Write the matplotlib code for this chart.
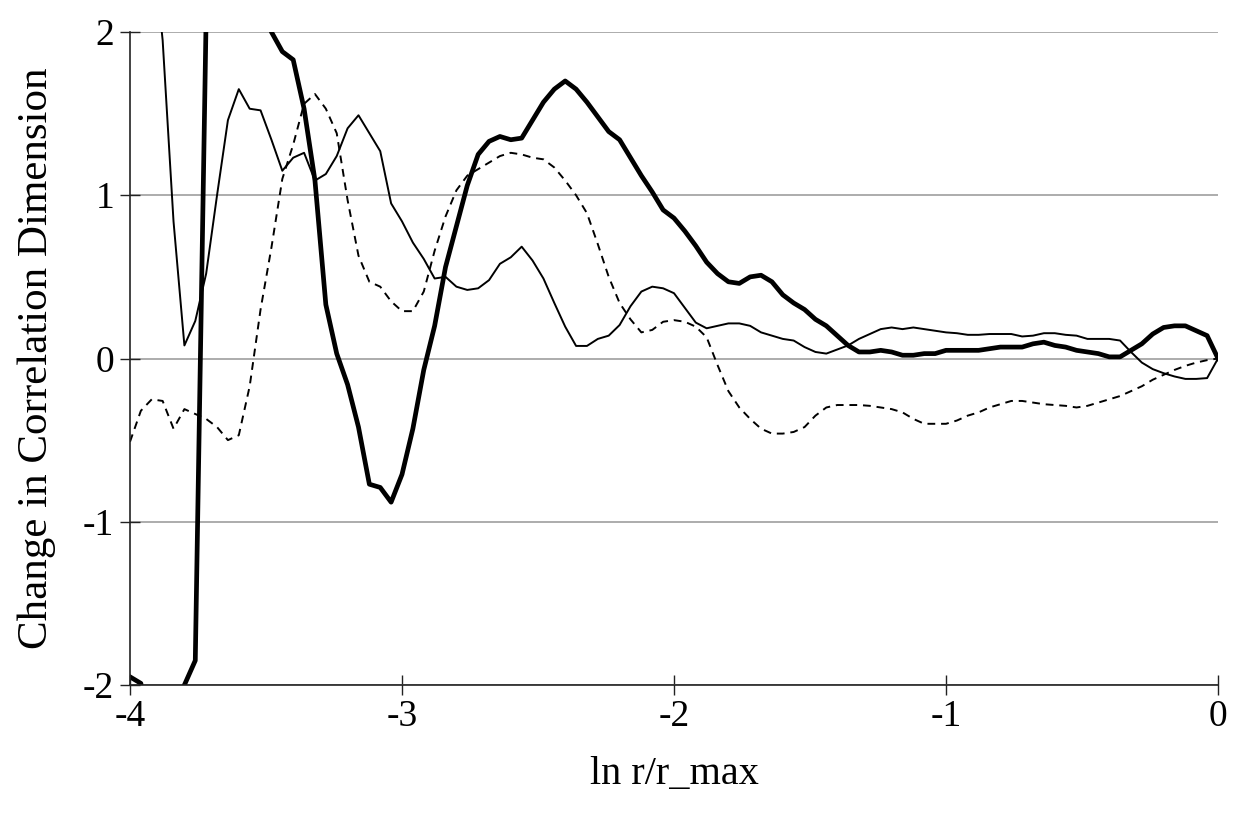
import matplotlib
matplotlib.use("Agg")
import matplotlib.pyplot as plt
import numpy as np

# ln r/r_max sampled every 0.04 from -4 to 0
ln_r = np.linspace(-4.0, 0.0, 101)

# thick solid curve (values beyond +-2 are clipped by the axes)
thick = [-1.95, -1.99, -2.5, -2.7, -2.4, -2.0, -1.85, 2.1, 2.6, 2.9,
         3.0, 2.8, 2.4, 2.0, 1.88, 1.83, 1.53, 1.09, 0.33, 0.03,
         -0.16, -0.42, -0.77, -0.79, -0.88, -0.71, -0.43, -0.07, 0.20, 0.56,
         0.81, 1.06, 1.25, 1.33, 1.36, 1.34, 1.35, 1.46, 1.57, 1.65,
         1.70, 1.65, 1.57, 1.48, 1.39, 1.34, 1.23, 1.12, 1.02, 0.91,
         0.86, 0.78, 0.69, 0.59, 0.52, 0.47, 0.46, 0.50, 0.51, 0.47,
         0.39, 0.34, 0.30, 0.24, 0.20, 0.14, 0.08, 0.04, 0.04, 0.05,
         0.04, 0.02, 0.02, 0.03, 0.03, 0.05, 0.05, 0.05, 0.05, 0.06,
         0.07, 0.07, 0.07, 0.09, 0.10, 0.08, 0.07, 0.05, 0.04, 0.03,
         0.01, 0.01, 0.05, 0.09, 0.15, 0.19, 0.20, 0.20, 0.17, 0.14,
         0.00]

# thin solid curve
thin = [3.5, 3.2, 2.6, 1.95, 0.84, 0.08, 0.23, 0.52, 1.00, 1.46,
        1.65, 1.53, 1.52, 1.34, 1.15, 1.23, 1.26, 1.09, 1.13, 1.24,
        1.41, 1.49, 1.38, 1.27, 0.95, 0.84, 0.71, 0.61, 0.49, 0.50,
        0.44, 0.42, 0.43, 0.48, 0.58, 0.62, 0.685, 0.60, 0.49, 0.34,
        0.195, 0.077, 0.077, 0.12, 0.14, 0.205, 0.32, 0.41, 0.44, 0.43,
        0.40, 0.31, 0.22, 0.185, 0.20, 0.215, 0.215, 0.20, 0.16, 0.14,
        0.12, 0.11, 0.07, 0.04, 0.03, 0.055, 0.08, 0.12, 0.15, 0.18,
        0.19, 0.18, 0.19, 0.18, 0.17, 0.16, 0.155, 0.145, 0.145, 0.15,
        0.15, 0.15, 0.135, 0.14, 0.155, 0.155, 0.145, 0.14, 0.12, 0.12,
        0.12, 0.11, 0.04, -0.025, -0.065, -0.09, -0.11, -0.125, -0.125, -0.12,
        0.0]

# dashed curve
dashed = [-0.51, -0.32, -0.25, -0.26, -0.43, -0.31, -0.34, -0.37, -0.42, -0.50,
          -0.47, -0.17, 0.30, 0.68, 1.10, 1.31, 1.56, 1.62, 1.53, 1.38,
          0.97, 0.63, 0.47, 0.44, 0.35, 0.29, 0.29, 0.41, 0.66, 0.87,
          1.03, 1.12, 1.16, 1.20, 1.24, 1.26, 1.25, 1.23, 1.22, 1.17,
          1.09, 1.00, 0.89, 0.70, 0.50, 0.34, 0.24, 0.16, 0.175, 0.225,
          0.235, 0.225, 0.195, 0.13, -0.04, -0.20, -0.30, -0.37, -0.43, -0.46,
          -0.46, -0.45, -0.42, -0.35, -0.30, -0.285, -0.285, -0.285, -0.29, -0.30,
          -0.31, -0.33, -0.37, -0.40, -0.40, -0.40, -0.38, -0.35, -0.33, -0.30,
          -0.28, -0.26, -0.26, -0.27, -0.28, -0.285, -0.29, -0.30, -0.29, -0.27,
          -0.25, -0.23, -0.20, -0.17, -0.13, -0.10, -0.07, -0.045, -0.025, -0.01,
          0.0]

plt.rcParams['font.family'] = ['Liberation Serif', 'DejaVu Serif']

fig = plt.figure(figsize=(12.41, 8.26), dpi=100)
ax = fig.add_axes([130/1241, 141/826, 1088/1241, 653/826])

ax.plot(ln_r, thin, color='black', lw=1.4)
ax.plot(ln_r, dashed, color='black', lw=1.4, linestyle=(0, (4, 3)))
ax.plot(ln_r, thick, color='black', lw=3.4)

ax.set_xlim(-4, 0)
ax.set_ylim(-2, 2)
ax.set_xticks([-4, -3, -2, -1, 0])
ax.set_yticks([-2, -1, 0, 1, 2])
ax.set_yticklabels(['-2', '-1', '0', '1', '2'])
ax.set_xticklabels(['-4', '-3', '-2', '-1', '0'])

ax.yaxis.grid(True, color='#a6a6a6', lw=1.3)
ax.set_axisbelow(True)
for s in ['top', 'right']:
    ax.spines[s].set_visible(False)
for s in ['left', 'bottom']:
    ax.spines[s].set_color('#222222')
    ax.spines[s].set_linewidth(1.2)

ax.tick_params(direction='inout', length=15, width=1.0, color='#222222', labelsize=27)
ax.tick_params(axis='y', pad=4)
ax.tick_params(axis='x', pad=3)

ax.set_xlabel('ln r/r_max', fontsize=29, labelpad=16)
ax.set_ylabel('Change in Correlation Dimension', fontsize=31, labelpad=19)

fig.savefig('out.png', dpi=100)
